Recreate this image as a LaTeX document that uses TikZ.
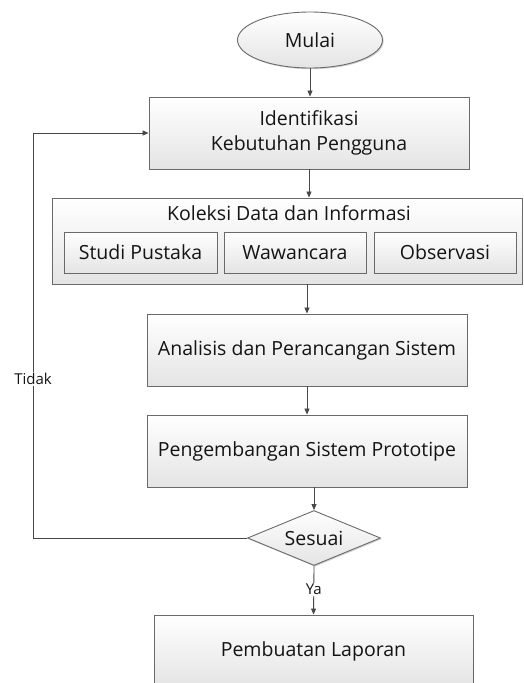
\documentclass[tikz,border=0pt]{standalone}
\usepackage{fontspec}
\setmainfont{Open Sans}
\usetikzlibrary{shapes.geometric,arrows.meta,shadows}
\definecolor{linec}{HTML}{6A6A6A}
\definecolor{arrc}{HTML}{484848}
\definecolor{boxbot}{HTML}{E4E4E4}
\definecolor{txt}{HTML}{141414}
\tikzset{
  base/.style={draw=linec, line width=0.9pt, top color=white, bottom color=boxbot,
    text=txt, font=\fontsize{19.5}{25}\selectfont, inner sep=0pt, align=center,
    drop shadow={shadow xshift=1.2pt, shadow yshift=-1.2pt, opacity=0.18, fill=black}},
  boxr/.style={base, rectangle, minimum width=#1, minimum height=72pt},
  inbox/.style={base, rectangle, minimum height=41pt},
  arr/.style={draw=arrc, line width=0.85pt, -{Triangle[length=6pt,width=5pt]}},
  lab/.style={fill=white, text=txt, font=\fontsize{15}{17}\selectfont, inner sep=1pt}
}
\begin{document}
\begin{tikzpicture}[x=1pt,y=-1pt]
\useasboundingbox[fill=white] (0,0) rectangle (523,683);
\node[base, ellipse, minimum width=145pt, minimum height=56pt] (mulai) at (310,40) {Mulai};
\node[boxr=320pt] (ident) at (309,133) {Identifikasi\\Kebutuhan Pengguna};
\node[base, rectangle, minimum width=470pt, minimum height=86pt] (koleksi) at (287,241) {};
\node[text=txt, font=\fontsize{19.5}{25}\selectfont, inner sep=0pt] (koltitle) at (289,213) {Koleksi Data dan Informasi};
\node[inbox, minimum width=153pt] (studi) at (140.5,252.5) {Studi Pustaka};
\node[inbox, minimum width=142pt] (wawan) at (295,252.5) {Wawancara};
\node[inbox, minimum width=142pt] (obs) at (445,252.5) {Observasi};
\node[boxr=320pt] (anal) at (307,350) {Analisis dan Perancangan Sistem};
\node[boxr=320pt] (peng) at (307,451) {Pengembangan Sistem Prototipe};
\node[base, diamond, aspect=2.4, minimum width=133pt, minimum height=55pt] (sesuai) at (314,538) {Sesuai};
\node[boxr=319pt] (lap) at (313.5,651) {Pembuatan Laporan};
\coordinate (cl) at (33,538);
\draw[arr] (mulai.south) -- (mulai.south |- ident.north);
\draw[arr] (ident.south) -- (ident.south |- koleksi.north);
\draw[arr] (anal.north |- koleksi.south) -- (anal.north);
\draw[arr] (anal.south) -- (peng.north);
\draw[arr] (sesuai.north |- peng.south) -- (sesuai.north);
\draw[arr] (sesuai.south) -- node[lab, pos=0.48] (ya) {Ya} (lap.north);
\draw[arr] (sesuai.west) -- (cl) -- node[lab, pos=0.393] (tidak) {Tidak} (cl |- ident.west) -- (ident.west);
\end{tikzpicture}
\end{document}
